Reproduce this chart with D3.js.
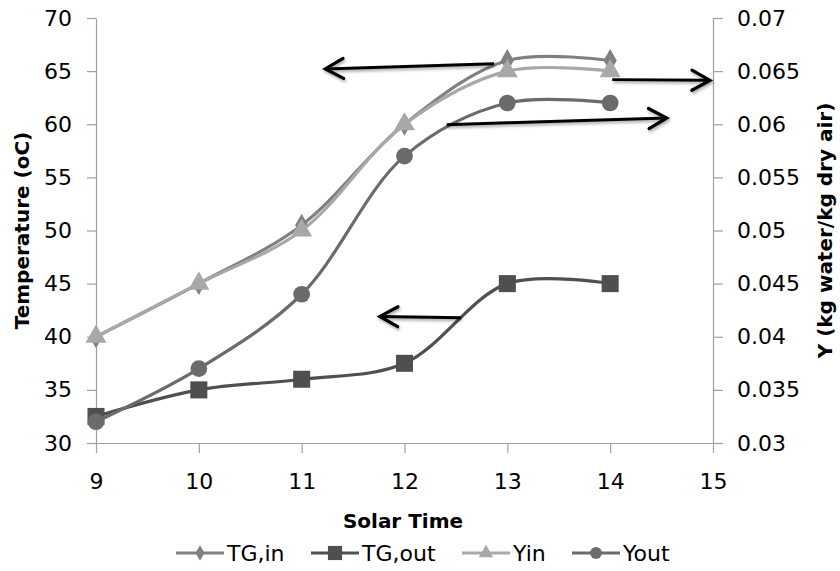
<!DOCTYPE html>
<html>
<head>
<meta charset="utf-8">
<script src="https://cdn.jsdelivr.net/npm/d3@7"></script>
<style>
  body { margin: 0; background: #fff; }
  text { font-family: "DejaVu Sans", sans-serif; fill: #000; }
</style>
</head>
<body>
<script>
// data
const solarTime = [9, 10, 11, 12, 13, 14]
const tgIn  = [40, 45, 50.5, 60, 66, 66]
const tgOut = [32.5, 35, 36, 37.5, 45, 45]
const yIn   = [0.04, 0.045, 0.05, 0.06, 0.065, 0.065]
const yOut  = [0.032, 0.037, 0.044, 0.057, 0.062, 0.062]

const xTicks = [9, 10, 11, 12, 13, 14, 15]
const tempTicks = [30, 35, 40, 45, 50, 55, 60, 65, 70]
const yTicks = [0.03, 0.035, 0.04, 0.045, 0.05, 0.055, 0.06, 0.065, 0.07]

// annotation arrows in data units (from [x, temp] to [x, temp] = tip)
const arrows = [
  [[12.87, 65.7], [11.23, 65.2]],
  [[14.02, 64.2], [14.97, 64.13]],
  [[12.41, 59.96], [14.55, 60.59]],
  [[12.55, 41.79], [11.76, 41.91]]
]

const w = 840
const h = 571
const mLeft = 96, mRight = 713, mTop = 18, mBottom = 443

const svg = d3.select("body").append("svg")
  .attr("width", w)
  .attr("height", h)

const defs = svg.append("defs")
const shadow = defs.append("filter").attr("id", "shadow")
  .attr("x", "-20%").attr("y", "-50%").attr("width", "140%").attr("height", "300%")
shadow.append("feDropShadow")
  .attr("dx", 1).attr("dy", 2).attr("stdDeviation", 1.5)
  .attr("flood-color", "#000").attr("flood-opacity", 0.35)

const x = d3.scaleLinear().domain([9, 15]).range([mLeft, mRight])
const yT = d3.scaleLinear().domain([30, 70]).range([mBottom, mTop])
const yY = d3.scaleLinear().domain([0.03, 0.07]).range([mBottom, mTop])

// axes
const axisColor = "#a0a0a0"
function styleAxis(g) {
  g.selectAll("path, line").attr("stroke", axisColor).attr("stroke-width", 1.2)
  g.selectAll("text").attr("font-size", 22).attr("fill", "#000")
    .attr("font-family", "DejaVu Sans, sans-serif")
}

svg.append("g")
  .attr("transform", `translate(${mLeft},0)`)
  .call(d3.axisLeft(yT).tickValues(tempTicks).tickSize(9).tickSizeOuter(0).tickPadding(15))
  .call(styleAxis)

svg.append("g")
  .attr("transform", `translate(${mRight},0)`)
  .call(d3.axisRight(yY).tickValues(yTicks).tickSize(10).tickSizeOuter(0).tickPadding(14)
    .tickFormat(d => String(+d.toFixed(3))))
  .call(styleAxis)

svg.append("g")
  .attr("transform", `translate(0,${mBottom})`)
  .call(d3.axisBottom(x).tickValues(xTicks).tickFormat(d3.format("d"))
    .tickSize(10).tickSizeOuter(0).tickPadding(20))
  .call(styleAxis)

// axis titles
svg.append("text")
  .attr("transform", `translate(29,${(mTop + mBottom) / 2}) rotate(-90)`)
  .attr("text-anchor", "middle")
  .attr("font-size", 20).attr("font-weight", "bold")
  .text("Temperature (oC)")

svg.append("text")
  .attr("transform", `translate(832,${(mTop + mBottom) / 2}) rotate(-90)`)
  .attr("text-anchor", "middle")
  .attr("font-size", 20).attr("font-weight", "bold")
  .text("Y (kg water/kg dry air)")

svg.append("text")
  .attr("x", 403).attr("y", 528)
  .attr("text-anchor", "middle")
  .attr("font-size", 20).attr("font-weight", "bold")
  .text("Solar Time")

// series
const series = [
  { name: "TG,in", values: tgIn, scale: yT, color: "#808080", symbol: d3.symbolDiamond, size: 150, legendSize: 70 },
  { name: "TG,out", values: tgOut, scale: yT, color: "#4f4f4f", symbol: d3.symbolSquare, size: 290, legendSize: 200 },
  { name: "Yin", values: yIn, scale: yY, color: "#a8a8a8", symbol: d3.symbolTriangle, size: 190, legendSize: 90 },
  { name: "Yout", values: yOut, scale: yY, color: "#6b6b6b", symbol: d3.symbolCircle, size: 220, legendSize: 110 }
]

const line = d3.line().curve(d3.curveCatmullRom.alpha(0.5))

series.forEach(s => {
  const pts = solarTime.map((t, i) => [x(t), s.scale(s.values[i])])
  const g = svg.append("g")
  g.append("path")
    .attr("d", line(pts))
    .attr("fill", "none")
    .attr("stroke", s.color)
    .attr("stroke-width", 3.2)
  g.selectAll("path.marker")
    .data(pts)
    .enter()
    .append("path")
    .attr("class", "marker")
    .attr("transform", d => `translate(${d[0]},${d[1]})`)
    .attr("d", d3.symbol().type(s.symbol).size(s.size))
    .attr("fill", s.color)
})

// arrows
arrows.forEach(a => {
  const x1 = x(a[0][0]), y1 = yT(a[0][1])
  const x2 = x(a[1][0]), y2 = yT(a[1][1])
  const ang = Math.atan2(y2 - y1, x2 - x1)
  const hl = 18, hw = 10
  const bx = x2 - hl * Math.cos(ang), by = y2 - hl * Math.sin(ang)
  const px = -Math.sin(ang) * hw, py = Math.cos(ang) * hw
  const g = svg.append("g").attr("filter", "url(#shadow)")
  g.append("line")
    .attr("x1", x1).attr("y1", y1).attr("x2", x2).attr("y2", y2)
    .attr("stroke", "#000").attr("stroke-width", 3)
  g.append("polyline")
    .attr("points", `${bx + px},${by + py} ${x2},${y2} ${bx - px},${by - py}`)
    .attr("fill", "none").attr("stroke", "#000").attr("stroke-width", 3.2)
    .attr("stroke-linecap", "round").attr("stroke-linejoin", "miter")
})

// legend
const legendX = [176, 311, 462, 572]
const legendY = 553
series.forEach((s, i) => {
  const g = svg.append("g").attr("transform", `translate(${legendX[i]},${legendY})`)
  g.append("line")
    .attr("x1", 0).attr("x2", 48)
    .attr("stroke", s.color).attr("stroke-width", 3.2)
  g.append("path")
    .attr("transform", "translate(24,0)")
    .attr("d", d3.symbol().type(s.symbol).size(s.legendSize))
    .attr("fill", s.color)
  g.append("text")
    .attr("x", 51).attr("y", 8)
    .attr("font-size", 22)
    .text(s.name)
})
</script>
</body>
</html>
